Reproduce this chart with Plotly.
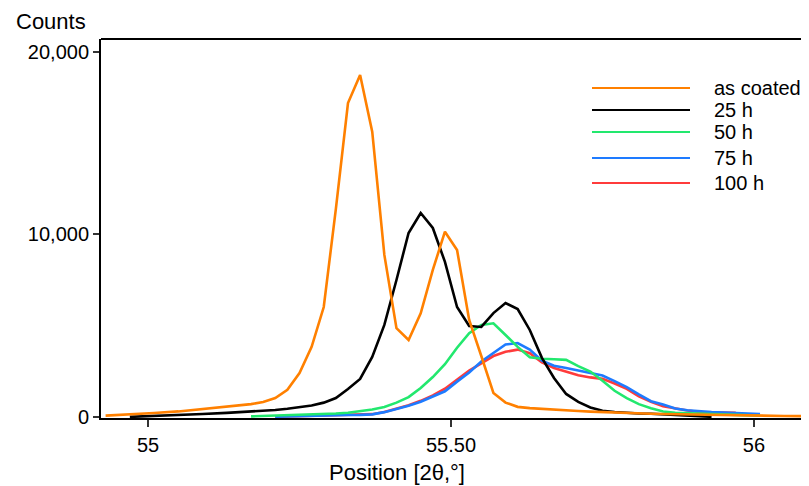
import plotly.graph_objects as go

# ---------------- data ----------------
X = [54.93, 54.97, 55.01, 55.05, 55.09, 55.13, 55.17, 55.19, 55.21, 55.23,
     55.25, 55.27, 55.29, 55.31, 55.33, 55.35, 55.37, 55.39, 55.41, 55.43,
     55.45, 55.47, 55.49, 55.51, 55.53, 55.55, 55.57, 55.59, 55.61, 55.63,
     55.65, 55.67, 55.69, 55.71, 55.73, 55.75, 55.77, 55.79, 55.81, 55.83,
     55.85, 55.87, 55.89, 55.91, 55.93, 55.97, 56.01, 56.05, 56.09]

AS_COATED = [90, 150, 230, 320, 450, 590, 720, 837, 1055, 1500,
             2420, 3850, 6030, 11400, 17190, 18720, 15620, 8880, 4870, 4230,
             5690, 8060, 10150, 9150, 5320, 3350, 1330, 800, 570, 500,
             450, 410, 370, 340, 310, 280, 250, 230, 210, 195,
             180, 165, 150, 135, 120, 100, 85, 70, 60]

H25 = [None, 20, 60, 100, 180, 240, 300, 330, 400, 470,
       550, 645, 800, 1055, 1550, 2100, 3300, 5050, 7510, 10080,
       11175, 10355, 8500, 6030, 4990, 4940, 5700, 6250, 5920, 4775,
       3250, 2150, 1275, 840, 535, 360, 290, 240, 210, 190,
       160, 100, 60, 40, 25, None, None, None, None]

H50 = [None, None, None, None, None, None, 50, 70, 90, 110,
       126, 150, 180, 210, 250, 320, 420, 560, 800, 1100,
       1600, 2200, 2900, 3800, 4600, 5050, 5140, 4500, 3850, 3280,
       3200, 3170, 3140, 2800, 2500, 2000, 1450, 1050, 720, 500,
       320, 250, 220, 190, 170, 130, 90, None, None]

H75 = [None, None, None, None, None, None, None, None, 30, 50,
       70, 85, 100, 110, 120, 130, 160, 280, 440, 630,
       850, 1140, 1420, 1950, 2450, 3050, 3530, 3980, 4060, 3700,
       3100, 2820, 2700, 2550, 2420, 2280, 1980, 1650, 1250, 880,
       700, 480, 380, 320, 290, 230, 180, None, None]

H100 = [None, None, None, None, None, None, None, None, 30, 50,
        70, 85, 100, 110, 120, 135, 170, 290, 480, 660,
        900, 1200, 1560, 2050, 2550, 2950, 3350, 3580, 3700, 3500,
        3000, 2700, 2480, 2300, 2180, 2100, 1850, 1550, 1150, 850,
        600, 480, 370, 290, 260, 240, None, None, None]

NAMES = ["as coated", "25 h", "50 h", "75 h", "100 h"]
COLORS = ["#FF8000", "#000000", "#22E86E", "#1E7BFF", "#FF3B3B"]
SERIES = [AS_COATED, H25, H50, H75, H100]

X_TICKS = [55, 55.5, 56]
X_TICKTEXT = ["55", "55.50", "56"]
Y_TICKS = [0, 10000, 20000]
Y_TICKTEXT = ["0", "10,000", "20,000"]

# ---------------- layout geometry ----------------
# the page body adds an 8 px offset; compensate so the plot lands in place
OFF = 8
W, H = 809 - OFF, 486 - OFF
ML, MR, MT, MB = 101 - OFF, 0, 39 - OFF, 68
PW, PH = W - ML - MR, H - MT - MB
FONT = "Liberation Sans, Arial, sans-serif"


def px(xp):
    """screen x (reference pixels) -> paper coordinate"""
    return (xp - OFF - ML) / PW


def py(yp):
    """screen y (reference pixels) -> paper coordinate"""
    return (H - MB - (yp - OFF)) / PH


fig = go.Figure()

# draw red first, orange last (orange on top)
for name, color, vals in reversed(list(zip(NAMES, COLORS, SERIES))):
    fig.add_trace(go.Scatter(
        x=X, y=vals, mode="lines", name=name,
        line=dict(color=color, width=2.6),
        connectgaps=False, showlegend=False,
    ))

shapes = [
    dict(type="line", xref="paper", yref="paper", x0=0, x1=1, y0=1, y1=1,
         line=dict(color="black", width=2)),
]
annotations = []

# manual legend
leg_y = [88, 110, 132, 158, 183]
for name, color, ly in zip(NAMES, COLORS, leg_y):
    shapes.append(dict(type="line", xref="paper", yref="paper",
                       x0=px(592), x1=px(690), y0=py(ly), y1=py(ly),
                       line=dict(color=color, width=2.2)))
    annotations.append(dict(text=name, xref="paper", yref="paper",
                            x=px(712), y=py(ly), xanchor="left", yanchor="middle",
                            showarrow=False,
                            font=dict(family=FONT, size=20, color="black")))

annotations.append(dict(text="Counts", xref="paper", yref="paper",
                        x=px(14), y=py(21), xanchor="left", yanchor="middle",
                        showarrow=False,
                        font=dict(family=FONT, size=22, color="black")))
annotations.append(dict(text="Position [2θ,°]", xref="paper", yref="paper",
                        x=px(397), y=py(472), xanchor="center", yanchor="middle",
                        showarrow=False,
                        font=dict(family=FONT, size=22, color="black")))

fig.update_layout(
    width=W, height=H,
    margin=dict(l=ML, r=MR, t=MT, b=MB, pad=0),
    paper_bgcolor="white", plot_bgcolor="white",
    showlegend=False,
    shapes=shapes, annotations=annotations,
    font=dict(family=FONT, size=20, color="black"),
)
fig.update_xaxes(
    range=[54.9224, 56.0908],
    tickvals=X_TICKS, ticktext=X_TICKTEXT,
    showline=True, linecolor="black", linewidth=2,
    ticks="outside", ticklen=7, tickwidth=1.5, tickcolor="#333",
    ticklabelstandoff=1,
    showgrid=False, zeroline=False,
    tickfont=dict(family=FONT, size=20, color="black"),
)
fig.update_yaxes(
    range=[-40, 20690],
    tickvals=Y_TICKS, ticktext=Y_TICKTEXT,
    showline=True, linecolor="black", linewidth=2,
    ticks="outside", ticklen=6, tickwidth=1.5, tickcolor="#333",
    showgrid=False, zeroline=False,
    tickfont=dict(family=FONT, size=20, color="black"),
)

fig.write_html("out.html")
